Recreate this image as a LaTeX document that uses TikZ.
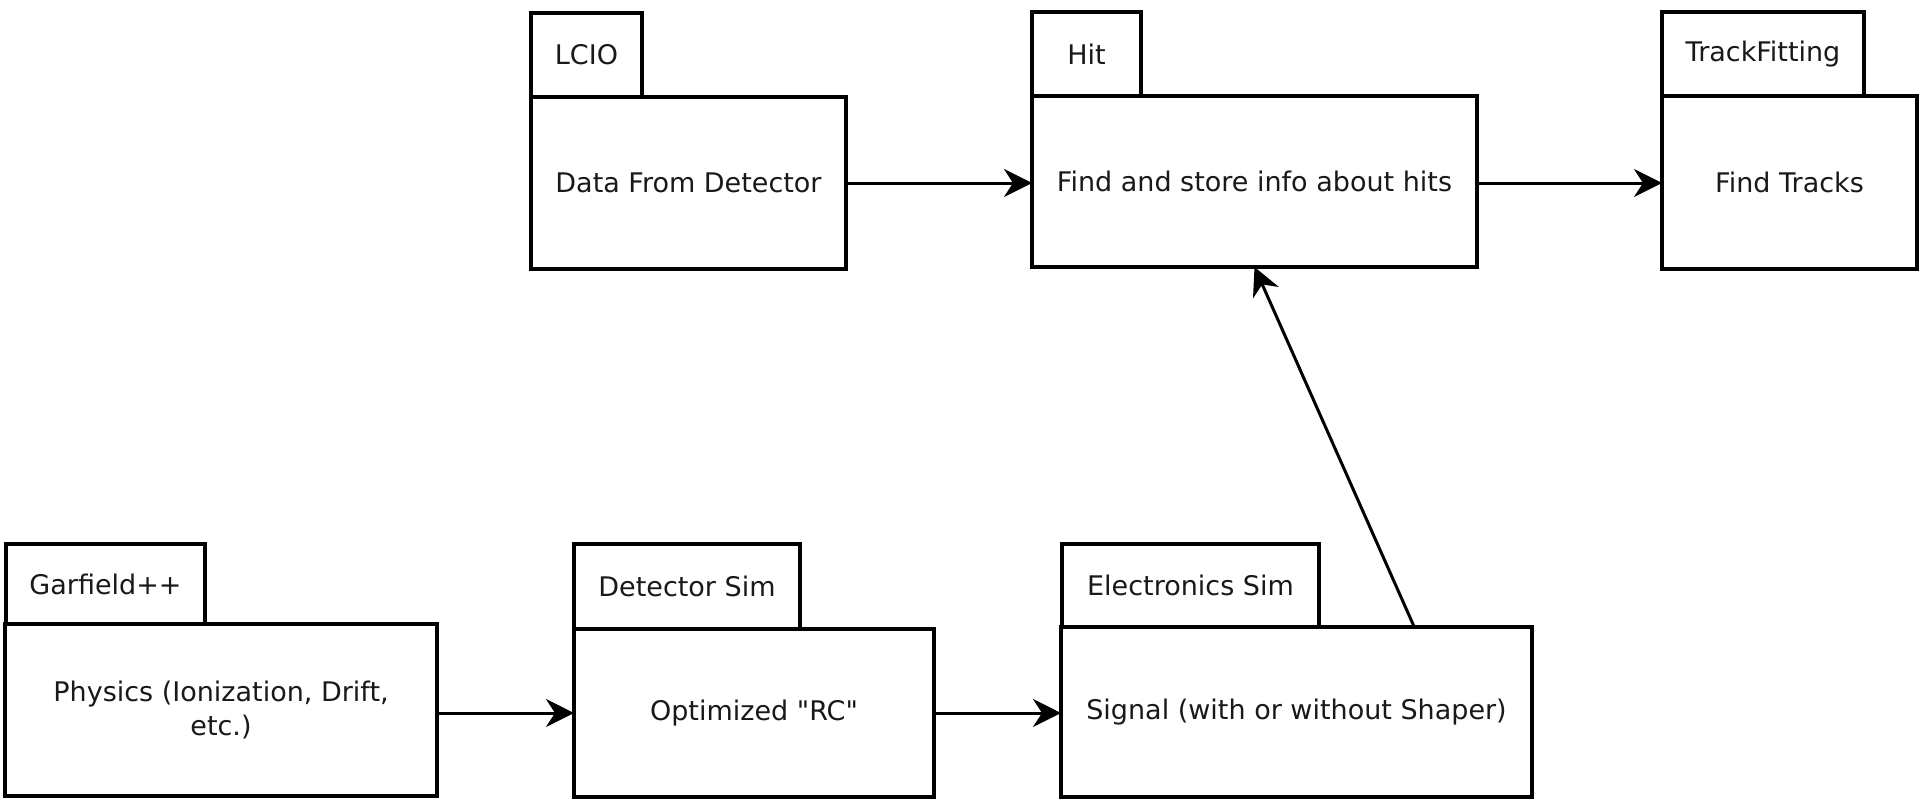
\documentclass[tikz,border=0pt]{standalone}
\usepackage{fontspec}
\setmainfont{DejaVu Sans}[Ligatures=TeXOff]
\usetikzlibrary{arrows.meta,calc}
\begin{document}
\begin{tikzpicture}[x=0.5pt,y=-0.5pt,
  pkg/.style={draw=black, line width=1.7pt, fill=white, inner sep=2pt, outer sep=0pt,
    anchor=north west, align=center, text=black!90, font=\fontsize{13.5}{17}\selectfont},
  conn/.style={line width=1.5pt, -{Stealth[length=14pt,width=14pt,inset=4.5pt]}}]
\useasboundingbox (0,0) rectangle (1920,799);
% top row
\node[pkg, minimum width=55.5pt, minimum height=42pt] (lciot) at (531,13) {LCIO};
\node[pkg, minimum width=157.5pt, minimum height=86pt] (lcio) at (531,97) {Data From Detector};
\node[pkg, minimum width=54.5pt, minimum height=42pt] (hitt) at (1032,12) {Hit};
\node[pkg, minimum width=222.5pt, minimum height=85.5pt] (hit) at (1032,96) {Find and store info about hits};
\node[pkg, minimum width=101pt, minimum height=42pt] (tft) at (1662,12) {TrackFitting};
\node[pkg, minimum width=127.5pt, minimum height=86.5pt] (tf) at (1662,96) {Find Tracks};
% bottom row
\node[pkg, minimum width=99.5pt, minimum height=40pt] (garft) at (6,544) {Garfield++};
\node[pkg, minimum width=216pt, minimum height=86pt] (garf) at (5,624) {Physics (Ionization, Drift,\\etc.)};
\node[pkg, minimum width=113pt, minimum height=42.5pt] (dett) at (574,544) {Detector Sim};
\node[pkg, minimum width=180pt, minimum height=84pt] (det) at (574,629) {Optimized "RC"};
\node[pkg, minimum width=128.5pt, minimum height=41.5pt] (elect) at (1062,544) {Electronics Sim};
\node[pkg, minimum width=235.5pt, minimum height=85pt] (elec) at (1061,627) {Signal (with or without Shaper)};
% connectors
\draw[conn] (lcio.east) -- (hit.west |- lcio.east);
\draw[conn] (hit.east |- lcio.east) -- (tf.west |- lcio.east);
\draw[conn] (garf.east |- det.west) -- (det.west);
\draw[conn] (det.east) -- (elec.west |- det.east);
\coordinate (up) at ($(elec.north west)!0.75!(elec.north east)$);
\draw[conn] (up) -- (hit.south);
\end{tikzpicture}
\end{document}
